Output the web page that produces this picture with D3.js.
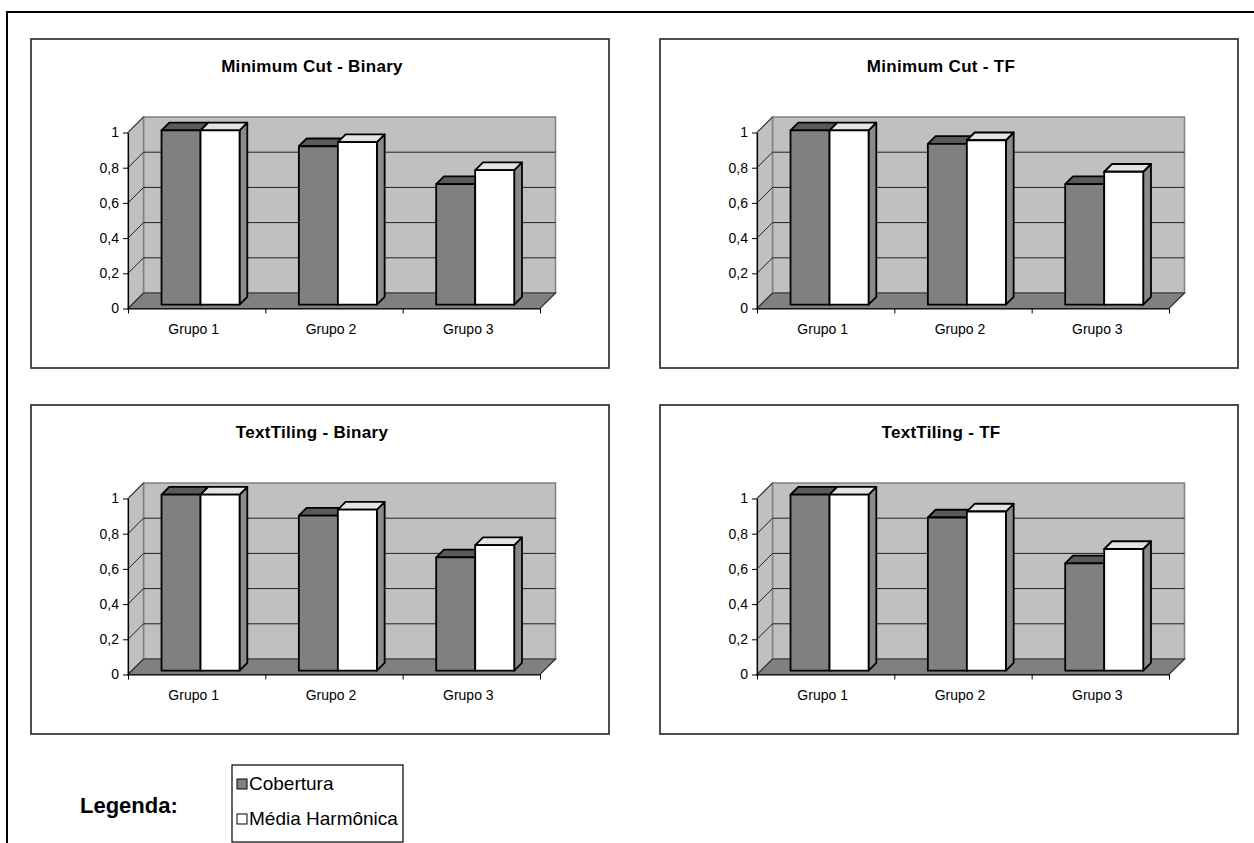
<!DOCTYPE html>
<html>
<head>
<meta charset="utf-8">
<script src="https://cdn.jsdelivr.net/npm/d3@7"></script>
<style>
  body { margin: 0; background: #fff; }
  svg { display: block; font-family: "Liberation Sans", Arial, sans-serif; }
</style>
</head>
<body>
<svg id="chart" width="1254" height="843"></svg>
<script>
// ---- data ----
const categories = ["Grupo 1", "Grupo 2", "Grupo 3"];
const seriesNames = ["Cobertura", "Média Harmônica"];
const chartTitles = ["Minimum Cut - Binary", "Minimum Cut - TF", "TextTiling - Binary", "TextTiling - TF"];
// one row per chart, one value per group
const coberturaValues = [
  [0.99, 0.90, 0.685],
  [0.99, 0.913, 0.685],
  [1.0, 0.881, 0.643],
  [1.0, 0.870, 0.609]
];
const mediaHarmonicaValues = [
  [0.99, 0.923, 0.764],
  [0.99, 0.934, 0.755],
  [1.0, 0.915, 0.713],
  [1.0, 0.904, 0.691]
];
const yTickValues = [0, 0.2, 0.4, 0.6, 0.8, 1];

// ---- styling ----
const seriesStyle = [
  { front: "#808080", top: "#5a5a5a", side: "#404040", swatch: "#808080" },
  { front: "#ffffff", top: "#e4e4e4", side: "#8a8a8a", swatch: "#ffffff" }
];
const wallFill = "#c0c0c0";
const floorFill = "#808080";

const svg = d3.select("#chart");
const fmt = d3.formatLocale({ decimal: ",", thousands: ".", grouping: [3], currency: ["", ""] }).format(".1~f");

// page frame
svg.append("rect")
  .attr("x", 7).attr("y", 12).attr("width", 1400).attr("height", 1000)
  .attr("fill", "none").attr("stroke", "#000").attr("stroke-width", 2);

// chart panels
const boxW = 578, boxH = 329;
const panels = [
  { x: 31, y: 39 }, { x: 660, y: 39 },
  { x: 31, y: 405 }, { x: 660, y: 405 }
];

// plot geometry inside a panel
const ax0 = 97, axW = 412, y0 = 269.5, plotH = 176, depthX = 15.5, depthY = 15.5;
const barFront = 0.25, barBack = 0.75;

const x = d3.scaleBand().domain(categories).range([0, axW]).paddingInner(0).paddingOuter(0);
const xs = d3.scaleBand().domain(seriesNames).range([0, x.bandwidth()]).paddingInner(0).paddingOuter(0.76);
const xLin = d3.scaleLinear().domain([0, categories.length]).range([0, axW]);
const y = d3.scaleLinear().domain([0, 1]).range([y0, y0 - plotH]);

const pt = (px, py) => px + "," + py;

chartTitles.forEach((title, ci) => {
  const p = panels[ci];
  const g = svg.append("g").attr("transform", `translate(${p.x},${p.y})`);

  g.append("rect")
    .attr("x", 0).attr("y", 0).attr("width", boxW).attr("height", boxH)
    .attr("fill", "#fff").attr("stroke", "#3a3a3a").attr("stroke-width", 1.8);

  g.append("text")
    .attr("x", boxW / 2 - 8).attr("y", 33)
    .attr("text-anchor", "middle")
    .attr("font-size", 17).attr("font-weight", "bold")
    .attr("letter-spacing", 0.3)
    .text(title);

  const plot = g.append("g").attr("transform", `translate(${ax0},0)`);

  // back wall
  plot.append("rect")
    .attr("x", depthX).attr("y", y(1) - depthY)
    .attr("width", axW).attr("height", plotH)
    .attr("fill", wallFill).attr("stroke", "#808080").attr("stroke-width", 1.5);

  // side wall
  plot.append("polygon")
    .attr("points", [pt(0, y(0)), pt(depthX, y(0) - depthY), pt(depthX, y(1) - depthY), pt(0, y(1))].join(" "))
    .attr("fill", wallFill).attr("stroke", "#808080").attr("stroke-width", 1.5);

  // floor
  plot.append("polygon")
    .attr("points", [pt(0, y(0)), pt(axW, y(0)), pt(axW + depthX, y(0) - depthY), pt(depthX, y(0) - depthY)].join(" "))
    .attr("fill", floorFill).attr("stroke", "#303030").attr("stroke-width", 1.2);

  // gridlines on back and side walls
  const grid = yTickValues.filter(v => v > 0 && v < 1);
  plot.selectAll(".hgrid").data(grid).join("line")
    .attr("x1", depthX).attr("x2", axW + depthX)
    .attr("y1", d => y(d) - depthY).attr("y2", d => y(d) - depthY)
    .attr("stroke", "#202020").attr("stroke-width", 1);
  plot.selectAll(".dgrid").data(yTickValues.filter(v => v > 0)).join("line")
    .attr("x1", 0).attr("x2", depthX)
    .attr("y1", d => y(d)).attr("y2", d => y(d) - depthY)
    .attr("stroke", "#202020").attr("stroke-width", 1);

  // bars
  const rows = [coberturaValues[ci], mediaHarmonicaValues[ci]];
  categories.forEach((cat, gi) => {
    seriesNames.forEach((s, si) => {
      const v = rows[si][gi];
      const st = seriesStyle[si];
      const bx = x(cat) + xs(s), bw = xs.bandwidth();
      const fx = bx + barFront * depthX, bkx = bx + barBack * depthX;
      const fyTop = y(v) - barFront * depthY, byTop = y(v) - barBack * depthY;
      const fyBot = y(0) - barFront * depthY, byBot = y(0) - barBack * depthY;
      const bar = plot.append("g")
        .attr("stroke", "#000").attr("stroke-width", 1.8).attr("stroke-linejoin", "round");
      bar.append("polygon")
        .attr("points", [pt(fx + bw, fyTop), pt(bkx + bw, byTop), pt(bkx + bw, byBot), pt(fx + bw, fyBot)].join(" "))
        .attr("fill", st.side);
      bar.append("polygon")
        .attr("points", [pt(fx, fyTop), pt(fx + bw, fyTop), pt(bkx + bw, byTop), pt(bkx, byTop)].join(" "))
        .attr("fill", st.top);
      bar.append("rect")
        .attr("x", fx).attr("y", fyTop).attr("width", bw).attr("height", fyBot - fyTop)
        .attr("fill", st.front);
    });
  });

  // value axis
  const yAxis = plot.append("g")
    .call(d3.axisLeft(y).tickValues(yTickValues).tickFormat(fmt).tickSize(5).tickSizeOuter(0).tickPadding(4));
  yAxis.select(".domain").attr("stroke", "#000").attr("stroke-width", 1.2);
  yAxis.selectAll(".tick line").attr("stroke", "#000");
  yAxis.selectAll("text").attr("font-size", 14).attr("fill", "#000").attr("font-family", "Liberation Sans, Arial, sans-serif");

  // category axis: boundary ticks and group labels
  const xTicks = plot.append("g").attr("transform", `translate(0,${y(0)})`)
    .call(d3.axisBottom(xLin).tickValues(d3.range(categories.length + 1)).tickFormat("").tickSize(5).tickSizeOuter(0));
  xTicks.select(".domain").attr("stroke", "#000").attr("stroke-width", 1.2);
  xTicks.selectAll(".tick line").attr("stroke", "#000");

  const xLabels = plot.append("g").attr("transform", `translate(-3,${y(0)})`)
    .call(d3.axisBottom(x).tickSize(0).tickPadding(16));
  xLabels.select(".domain").remove();
  xLabels.selectAll("text").attr("font-size", 14).attr("fill", "#000").attr("font-family", "Liberation Sans, Arial, sans-serif");
});

// legend
svg.append("text")
  .attr("x", 80).attr("y", 813)
  .attr("font-size", 22).attr("font-weight", "bold")
  .text("Legenda:");

const legend = svg.append("g").attr("transform", "translate(232,765)");
legend.append("rect")
  .attr("x", 0).attr("y", 0).attr("width", 171).attr("height", 77)
  .attr("fill", "#fff").attr("stroke", "#000").attr("stroke-width", 1.2);
const items = legend.selectAll(".item").data(seriesNames).join("g")
  .attr("transform", (d, i) => `translate(5,${24 + i * 35})`);
items.append("rect")
  .attr("x", 0).attr("y", -10).attr("width", 10).attr("height", 10)
  .attr("fill", (d, i) => seriesStyle[i].swatch).attr("stroke", "#000").attr("stroke-width", 1);
items.append("text")
  .attr("x", 12).attr("y", 1)
  .attr("font-size", 19)
  .text(d => d);
</script>
</body>
</html>
